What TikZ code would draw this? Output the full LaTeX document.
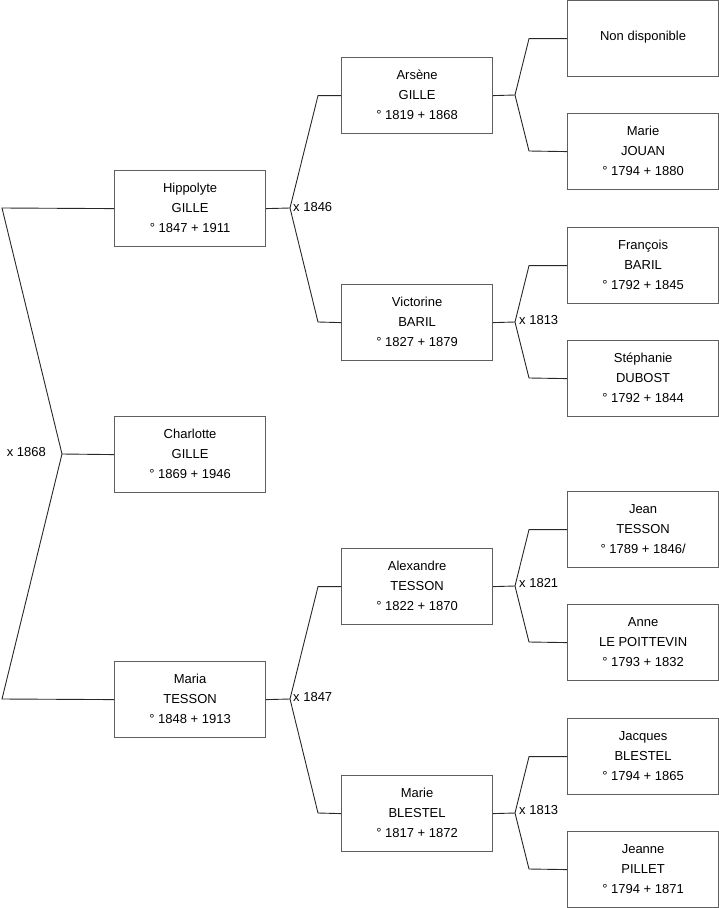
\documentclass[tikz,border=0pt]{standalone}
\usepackage{fontspec}
\setmainfont{Liberation Sans}
\definecolor{boxgray}{RGB}{95,95,95}
\definecolor{linegray}{RGB}{40,40,40}
\begin{document}
\begin{tikzpicture}[x=1pt,y=-1pt,
 person/.style={draw=boxgray, line width=1.2pt, minimum width=151pt, minimum height=76pt, inner sep=0pt, align=center, font=\fontsize{13}{20}\selectfont, anchor=north west, text height=48pt, text depth=0pt},
 single/.style={text height=9pt, text depth=5pt},
 link/.style={draw=linegray, line width=0.9pt},
 lbl/.style={font=\fontsize{13}{15}\selectfont, inner sep=0pt}]
\useasboundingbox (0,0) rectangle (719,908);
% column 1
\node[person] (hip) at (114,170) {Hippolyte\\GILLE\\° 1847 + 1911};
\node[person] (cha) at (114,416) {Charlotte\\GILLE\\° 1869 + 1946};
\node[person] (mar) at (114,661) {Maria\\TESSON\\° 1848 + 1913};
% column 2
\node[person] (ars) at (341,57) {Arsène\\GILLE\\° 1819 + 1868};
\node[person] (vic) at (341,284) {Victorine\\BARIL\\° 1827 + 1879};
\node[person] (ale) at (341,548) {Alexandre\\TESSON\\° 1822 + 1870};
\node[person] (mbl) at (341,775) {Marie\\BLESTEL\\° 1817 + 1872};
% column 3
\node[person, single] (nd)  at (567,0)   {Non disponible};
\node[person] (mjo) at (567,113) {Marie\\JOUAN\\° 1794 + 1880};
\node[person] (fra) at (567,227) {François\\BARIL\\° 1792 + 1845};
\node[person] (ste) at (567,340) {Stéphanie\\DUBOST\\° 1792 + 1844};
\node[person] (jea) at (567,491) {Jean\\TESSON\\° 1789 + 1846/};
\node[person] (ann) at (567,604) {Anne\\LE POITTEVIN\\° 1793 + 1832};
\node[person] (jac) at (567,718) {Jacques\\BLESTEL\\° 1794 + 1865};
\node[person] (jne) at (567,831) {Jeanne\\PILLET\\° 1794 + 1871};
% junction coordinates
\coordinate (a1) at (2,208);
\coordinate (a2) at (62,454);
\coordinate (a3) at (2,699);
\coordinate (b1) at (290,208);
\coordinate (b2) at (290,699);
\coordinate (c1) at (515,95);
\coordinate (c2) at (515,322);
\coordinate (c3) at (515,586);
\coordinate (c4) at (515,813);
% level 1
\draw[link] (hip.west) -- (a1) -- (a2) -- (a3) -- (mar.west);
\draw[link] (a2) -- (cha.west);
\node[lbl, anchor=east] (l1) at (46,452) {x 1868};
% level 2
\draw[link] (hip.east) -- (b1);
\draw[link] (ars.west) -- ++(-23,0) -- (b1) -- (318,322) -- (vic.west);
\node[lbl, anchor=west] (l2) at (293,207) {x 1846};
\draw[link] (mar.east) -- (b2);
\draw[link] (ale.west) -- ++(-23,0) -- (b2) -- (318,813) -- (mbl.west);
\node[lbl, anchor=west] (l3) at (293,697) {x 1847};
% level 3
\draw[link] (ars.east) -- (c1);
\draw[link] (nd.west) -- ++(-38,0) -- (c1) -- (529,151) -- (mjo.west);
\draw[link] (vic.east) -- (c2);
\draw[link] (fra.west) -- ++(-38,0) -- (c2) -- (529,378) -- (ste.west);
\node[lbl, anchor=west] (l4) at (519,320) {x 1813};
\draw[link] (ale.east) -- (c3);
\draw[link] (jea.west) -- ++(-38,0) -- (c3) -- (529,642) -- (ann.west);
\node[lbl, anchor=west] (l5) at (519,583) {x 1821};
\draw[link] (mbl.east) -- (c4);
\draw[link] (jac.west) -- ++(-38,0) -- (c4) -- (529,869) -- (jne.west);
\node[lbl, anchor=west] (l6) at (519,810) {x 1813};
\end{tikzpicture}
\end{document}
